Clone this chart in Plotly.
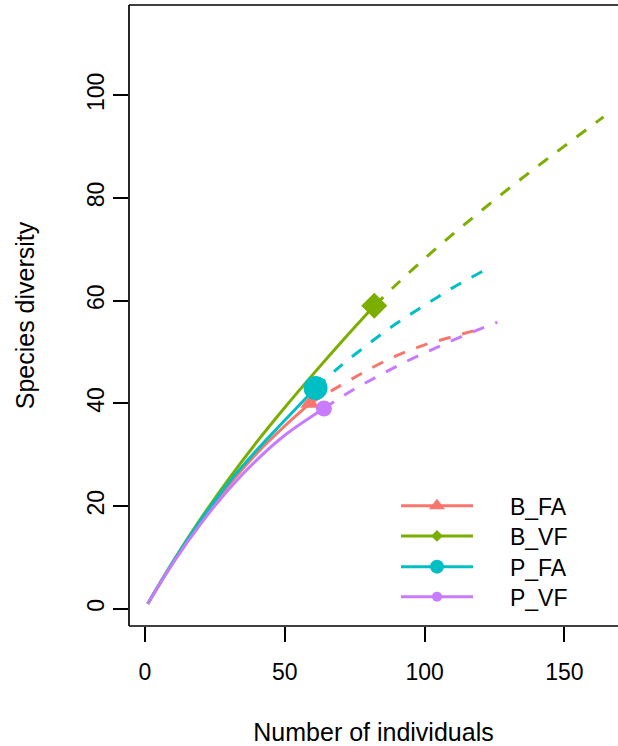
import plotly.graph_objects as go

# ---- data ----
sites = ["B_FA", "B_VF", "P_FA", "P_VF"]
colors = ["#F8766D", "#7CAE00", "#00BFC4", "#C77CFF"]

bfa_int_n = [1, 10, 20, 30, 40, 50, 59]
bfa_int_s = [1, 9.0, 17.0, 24.1, 30.3, 35.6, 40]
bfa_ext_n = [59, 70, 80, 90, 100, 110, 118]
bfa_ext_s = [40, 43.5, 46.6, 49.3, 51.4, 53.0, 54.2]

bvf_int_n = [1, 10, 20, 30, 40, 50, 60, 70, 82]
bvf_int_s = [1, 9.2, 17.6, 25.3, 32.5, 39.2, 45.6, 51.8, 59]
bvf_ext_n = [82, 90, 100, 110, 120, 130, 140, 150, 164]
bvf_ext_s = [59, 63.2, 68.2, 72.9, 77.4, 81.8, 86.0, 90.1, 95.8]

pfa_int_n = [1, 10, 20, 30, 40, 50, 61]
pfa_int_s = [1, 9.1, 17.3, 24.6, 30.9, 36.7, 43]
pfa_ext_n = [61, 70, 80, 90, 100, 110, 122]
pfa_ext_s = [43, 47.3, 51.6, 55.6, 59.1, 62.5, 66.1]

pvf_int_n = [1, 10, 20, 30, 40, 50, 64]
pvf_int_s = [1, 8.9, 16.6, 23.3, 29.0, 33.8, 39]
pvf_ext_n = [64, 74, 84, 94, 104, 114, 126]
pvf_ext_s = [39, 42.5, 45.5, 48.3, 50.8, 53.2, 55.8]

obs_n = [59, 82, 61, 64]
obs_s = [40, 59, 43, 39]

x_ticks = [0, 50, 100, 150]
y_ticks = [0, 20, 40, 60, 80, 100]

# ---- styles ----
symbols = ["triangle-up", "diamond", "circle", "circle"]
plot_sizes = [17, 20, 24, 16]
legend_sizes = [14, 9, 14, 10]
legend_rows_y = [0.1937, 0.1449, 0.0955, 0.0472]
FONT = "Liberation Sans, Arial, Helvetica, sans-serif"

series = [
    (bfa_int_n, bfa_int_s, bfa_ext_n, bfa_ext_s),
    (bvf_int_n, bvf_int_s, bvf_ext_n, bvf_ext_s),
    (pfa_int_n, pfa_int_s, pfa_ext_n, pfa_ext_s),
    (pvf_int_n, pvf_int_s, pvf_ext_n, pvf_ext_s),
]

fig = go.Figure()
for i, (inx, ins, exn, exs) in enumerate(series):
    fig.add_trace(go.Scatter(x=exn, y=exs, mode="lines", showlegend=False,
                             line=dict(color=colors[i], width=3, dash="12px,12px", shape="spline"),
                             hoverinfo="skip"))
for i, (inx, ins, exn, exs) in enumerate(series):
    fig.add_trace(go.Scatter(x=inx, y=ins, mode="lines", showlegend=False,
                             line=dict(color=colors[i], width=3, shape="spline"),
                             hoverinfo="skip"))
for i in range(4):
    fig.add_trace(go.Scatter(x=[obs_n[i]], y=[obs_s[i]], mode="markers", showlegend=False,
                             marker=dict(symbol=symbols[i], size=plot_sizes[i], color=colors[i],
                                         line=dict(width=0))))
# legend entries, one legend per row
legend_keys = ["legend", "legend2", "legend3", "legend4"]
for i in range(4):
    fig.add_trace(go.Scatter(x=[None], y=[None], mode="lines+markers",
                             name="\u00a0" * 5 + sites[i], legend=legend_keys[i],
                             line=dict(color=colors[i], width=3),
                             marker=dict(symbol=symbols[i], size=legend_sizes[i], color=colors[i])))

axis_common = dict(showgrid=False, zeroline=False, showline=False, ticks="outside",
                   ticklen=15, tickwidth=1.5, tickcolor="black",
                   tickfont=dict(family=FONT, size=23, color="black"))

legend_layout = {}
for i, key in enumerate(legend_keys):
    legend_layout[key] = dict(x=0.546, y=legend_rows_y[i], xanchor="left", yanchor="middle",
                              bgcolor="rgba(0,0,0,0)", itemwidth=72,
                              font=dict(family=FONT, size=23, color="black"))

fig.update_layout(
    width=618, height=746,
    margin=dict(l=129, r=0, t=5, b=120),
    paper_bgcolor="white", plot_bgcolor="white",
    font=dict(family=FONT, size=23, color="black"),
    xaxis=dict(range=[-5.72, 169.17], tickvals=x_ticks, ticklabelstandoff=10,
               title=dict(text="Number of individuals", standoff=45,
                          font=dict(family=FONT, size=25)), **axis_common),
    yaxis=dict(range=[-3.35, 117.58], tickvals=y_ticks, tickangle=-90, ticklabelstandoff=0,
               title=dict(text="Species diversity", standoff=41,
                          font=dict(family=FONT, size=25)), **axis_common),
    shapes=[
        dict(type="line", xref="paper", yref="paper", x0=0, x1=1, y0=1, y1=1,
             line=dict(color="black", width=1.7)),
        dict(type="line", xref="paper", yref="paper", x0=0, x1=1, y0=0, y1=0,
             line=dict(color="black", width=1.7)),
        dict(type="line", xref="paper", yref="paper", x0=0, x1=0, y0=0, y1=1,
             line=dict(color="black", width=1.7)),
    ],
    **legend_layout,
)

fig.write_html("out.html", config={"displayModeBar": False},
               post_script="document.body.style.margin='0';document.body.style.overflow='hidden';")
